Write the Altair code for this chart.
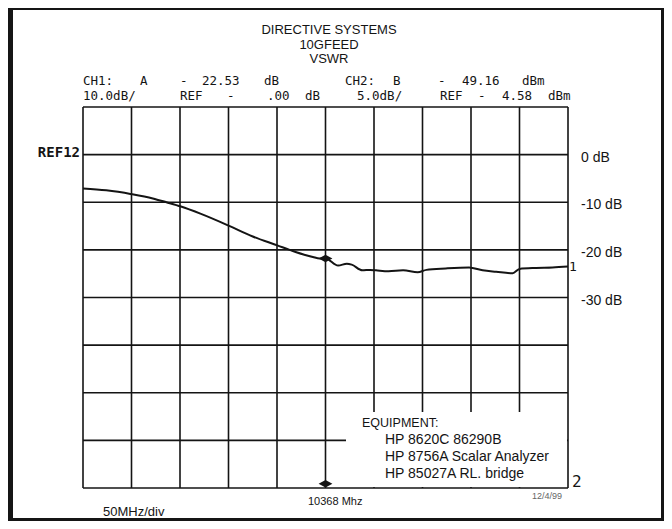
import altair as alt
import pandas as pd

# ---------------- data ----------------
freq_mhz = [10118, 10142, 10168, 10190, 10204, 10219, 10239, 10268, 10293, 10319,
            10331, 10349, 10355, 10362, 10368, 10381, 10390, 10395, 10406, 10414,
            10420, 10433, 10448, 10463, 10472, 10492, 10516, 10530, 10544, 10561,
            10568, 10585, 10602, 10618]
ch1_db = [-7.1, -7.5, -8.3, -9.2, -10.0, -10.9, -12.4, -14.9, -17.2, -19.1,
          -20.0, -21.2, -21.5, -21.8, -21.8, -23.3, -22.9, -23.1, -24.3, -24.2,
          -24.3, -24.5, -24.3, -24.7, -24.2, -23.9, -23.7, -24.3, -24.6, -24.9,
          -24.0, -23.8, -23.7, -23.5]

grid_freq_mhz = [10118, 10168, 10218, 10268, 10318, 10368, 10418, 10468, 10518, 10568, 10618]
grid_db = [10, 0, -10, -20, -30, -40, -50, -60, -70]
right_label_db = [0, -10, -20, -30]

marker_freq = 10368
ch1_marker_db = -21.8
ch2_marker_db = -69.1

title_lines = ["DIRECTIVE SYSTEMS", "10GFEED", "VSWR"]
equipment_lines = ["EQUIPMENT:", "HP 8620C 86290B", "HP 8756A Scalar Analyzer", "HP 85027A RL. bridge"]

# ---------------- styling ----------------
XD = [10118, 10618]
YD = [-70, 10]
xs = alt.Scale(domain=XD, nice=False, zero=False)
ys = alt.Scale(domain=YD, nice=False, zero=False)

INK = "#141414"
SANS = "Liberation Sans, Arial, sans-serif"
MONO = "DejaVu Sans Mono, Liberation Mono, monospace"

one = pd.DataFrame({"k": [0]})


def txt(s, x, y, size=14, font=SANS, align="left", color=INK, weight="normal"):
    return alt.Chart(one).mark_text(
        text=s, font=font, fontSize=size, align=align, baseline="middle",
        color=color, fontWeight=weight
    ).encode(x=alt.value(x), y=alt.value(y))


def box(x, x2, y, y2, color):
    return alt.Chart(one).mark_rect(fill=color, strokeWidth=0, opacity=1).encode(
        x=alt.value(x), x2=alt.value(x2), y=alt.value(y), y2=alt.value(y2))


vgrid = alt.Chart(pd.DataFrame({"f": grid_freq_mhz})).mark_rule(
    color=INK, strokeWidth=1.6).encode(x=alt.X("f:Q", scale=xs, axis=None))
hgrid = alt.Chart(pd.DataFrame({"d": grid_db})).mark_rule(
    color=INK, strokeWidth=1.6).encode(y=alt.Y("d:Q", scale=ys, axis=None))

# white box that hides the grid behind the equipment note
eq_box = box(263, 484, 305, 380, "white")

trace_df = pd.DataFrame({"f": freq_mhz, "d": ch1_db})
trace = alt.Chart(trace_df).mark_line(
    color=INK, strokeWidth=2, interpolate="monotone").encode(
    x=alt.X("f:Q", scale=xs, axis=None), y=alt.Y("d:Q", scale=ys, axis=None))

mk_df = pd.DataFrame({"f": [marker_freq, marker_freq], "d": [ch1_marker_db, ch2_marker_db]})
markers = alt.Chart(mk_df).mark_point(
    shape="M-1,0L0,-0.55L1,0L0,0.55Z", filled=True, size=190, color=INK, opacity=1).encode(
    x=alt.X("f:Q", scale=xs, axis=None), y=alt.Y("d:Q", scale=ys, axis=None))

end_df = pd.DataFrame({"f": [freq_mhz[-1]], "d": [ch1_db[-1]]})
end_lbl = alt.Chart(end_df).mark_text(
    text="1", font=MONO, fontSize=13, align="left", dx=1, color=INK).encode(
    x=alt.X("f:Q", scale=xs, axis=None), y=alt.Y("d:Q", scale=ys, axis=None))

rlab = alt.Chart(pd.DataFrame({"d": right_label_db})).transform_calculate(
    lbl="datum.d + ' dB'").mark_text(
    font=SANS, fontSize=14, align="left", dy=3, color=INK).encode(
    x=alt.value(498), y=alt.Y("d:Q", scale=ys, axis=None), text="lbl:N")

layers = [vgrid, hgrid, eq_box, trace, markers, end_lbl, rlab]

# titles
for i, s in enumerate(title_lines):
    layers.append(txt(s, 246, -77 + 14.5 * i, size=13, align="center"))

# header (plotter style monospace)
line1 = [("CH1:", 0), ("A", 57), ("-", 97), ("22.53", 119), ("dB", 181),
         ("CH2:", 262), ("B", 310), ("-", 355), ("49.16", 379), ("dBm", 439)]
line2 = [("10.0dB/", 0), ("REF", 97), ("-", 144), (".00", 184), ("dB", 222),
         ("5.0dB/", 274), ("REF", 357), ("-", 395), ("4.58", 419), ("dBm", 465)]
for s, x in line1:
    layers.append(txt(s, x, -26, size=12.5, font=MONO))
for s, x in line2:
    layers.append(txt(s, x, -11, size=12.5, font=MONO))

layers.append(txt("REF12", -3, 46, size=14, font=MONO, align="right", weight="bold"))
layers.append(txt("2", 489, 375, size=16, font=MONO))

# equipment note
layers.append(txt(equipment_lines[0], 279, 316, size=12.5))
for i, s in enumerate(equipment_lines[1:]):
    layers.append(txt(s, 302, 333 + 17 * i, size=14))

layers.append(txt("10368 Mhz", 225, 395, size=11))
layers.append(txt("12/4/99", 449, 389, size=9, color="#666666"))
layers.append(txt("50MHz/div", 20, 405, size=13))

# picture frame
FR = "#151515"
layers.append(box(-75, -70, -99, 414, FR))
layers.append(box(-75, 581, -99, -97, FR))
layers.append(box(578, 581, -99, 414, FR))
layers.append(box(-75, 581, 411, 414, FR))

chart = alt.layer(*layers).properties(
    width=485, height=381,
    autosize=alt.AutoSizeParams(type="none"),
    padding={"left": 75, "top": 99, "right": 96, "bottom": 33},
    background="white",
).configure_view(stroke=None)

chart.save("out.html", embed_options={"renderer": "svg", "actions": False})
